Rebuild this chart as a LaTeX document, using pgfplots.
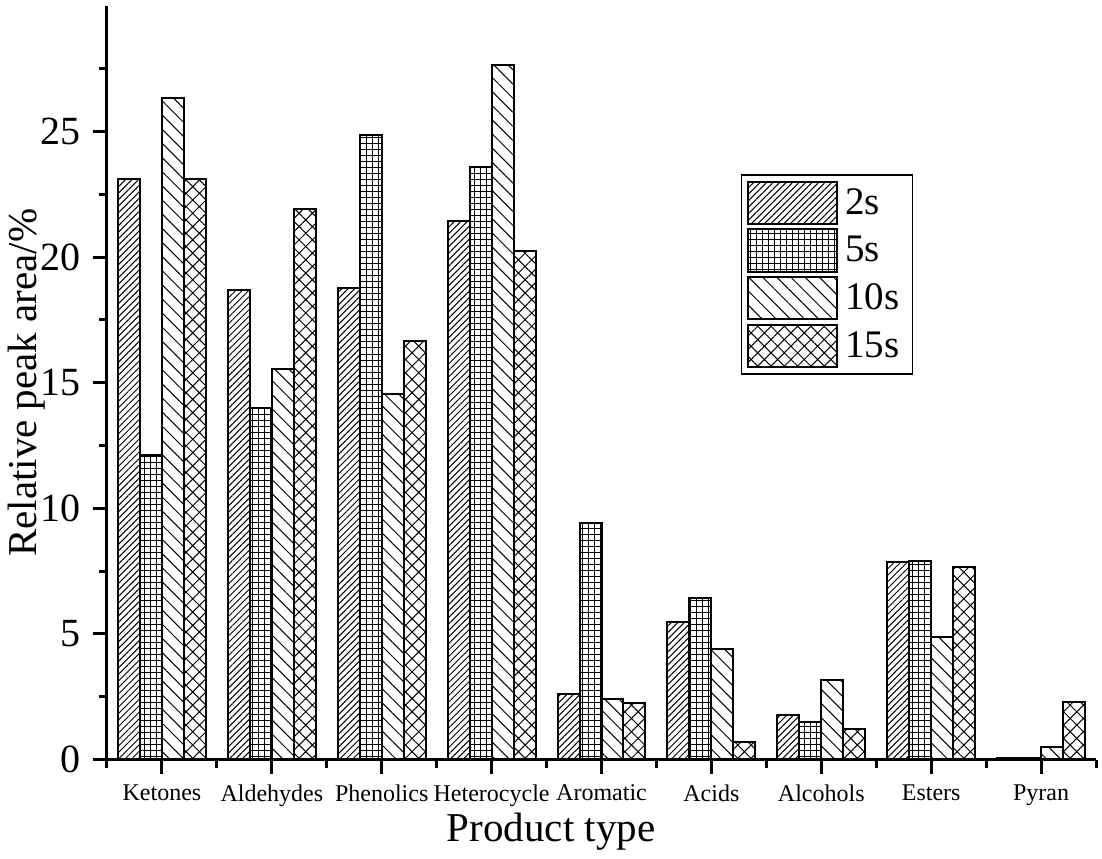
\documentclass[border=0pt]{standalone}
\usepackage{fontspec}
\setmainfont{Liberation Serif}
\usepackage{pgfplots}
\pgfplotsset{compat=1.18}
\usetikzlibrary{patterns.meta}

\begin{document}
\begin{tikzpicture}
\begin{axis}[
  scale only axis, width=494.5pt, height=376.75pt,
  xmin=-0.5, xmax=8.5, ymin=0, ymax=30,
  axis x line*=bottom, axis y line*=left,
  axis line style={line width=1.5pt,-},
  xtick={0,1,...,8},
  xticklabels={Ketones,Aldehydes,Phenolics,Heterocycle,Aromatic,Acids,Alcohols,Esters,Pyran},
  minor xtick={-0.5,0.5,...,8.5},
  ytick={0,5,...,25},
  minor ytick={2.5,7.5,...,27.5},
  tick align=outside,
  major tick length=7pt, minor tick length=4pt,
  every tick/.style={line width=1.5pt, black},
  /pgf/number format/assume math mode=true,
  x tick label style={font=\fontsize{12}{14}\selectfont, inner sep=2pt, yshift=-3.5pt},
  y tick label style={font=\fontsize{20}{24}\selectfont, inner sep=2pt, xshift=-4pt},
  every axis y label/.style={at={(axis description cs:-0.081,0.5)}, anchor=center, rotate=90},
  ylabel style={font=\fontsize{20.5}{24}\selectfont},
  ylabel={Relative peak area/\%},
  every axis x label/.style={at={(axis description cs:0.449,-0.1085)}, anchor=base},
  xlabel style={font=\fontsize{20.5}{24}\selectfont},
  xlabel={Product type},
  ybar, bar width=0.2, bar shift=0pt,
  every axis plot/.append style={draw=black, line width=1pt, fill=white},
  legend image code/.code={\draw[#1] (0pt,-10.6pt) rectangle (44.5pt,10.6pt);},
  legend cell align=left,
  legend style={at={(0.6407,0.777)}, anchor=north west, draw=black, line width=0.75pt,
    font=\fontsize{19.5}{20}\selectfont, inner sep=3pt, row sep=1.6pt,
    nodes={inner ysep=1pt, inner xsep=3.5pt}},
]
\addplot[pattern={Lines[angle=45,distance=2.3pt,line width=0.5pt]}] coordinates {
 (-0.3,23.13) (0.7,18.70) (1.7,18.79) (2.7,21.44) (3.7,2.61) (4.7,5.46) (5.7,1.77) (6.7,7.86) (7.7,0.07)};
\addplot[pattern={Hatch[angle=0,distance=3pt,line width=0.5pt]}] coordinates {
 (-0.1,12.12) (0.9,13.98) (1.9,24.86) (2.9,23.58) (3.9,9.42) (4.9,6.44) (5.9,1.49) (6.9,7.91) (7.9,0.07)};
\addplot[pattern={Lines[angle=-45,distance=5pt,line width=0.5pt]}] coordinates {
 (0.1,26.33) (1.1,15.55) (2.1,14.57) (3.1,27.64) (4.1,2.42) (5.1,4.39) (6.1,3.17) (7.1,4.89) (8.1,0.49)};
\addplot[pattern={Hatch[angle=45,distance=4.7pt,line width=0.5pt]}] coordinates {
 (0.3,23.13) (1.3,21.91) (2.3,16.65) (3.3,20.23) (4.3,2.24) (5.3,0.70) (6.3,1.20) (7.3,7.66) (8.3,2.29)};
\legend{2s,5s,10s,15s}
\coordinate (o) at (axis cs:-0.5,0);
\end{axis}
\pgfresetboundingbox
\path (o) ++(-53.5pt,-49.25pt) rectangle ++(551pt,429pt);
\end{tikzpicture}
\end{document}
